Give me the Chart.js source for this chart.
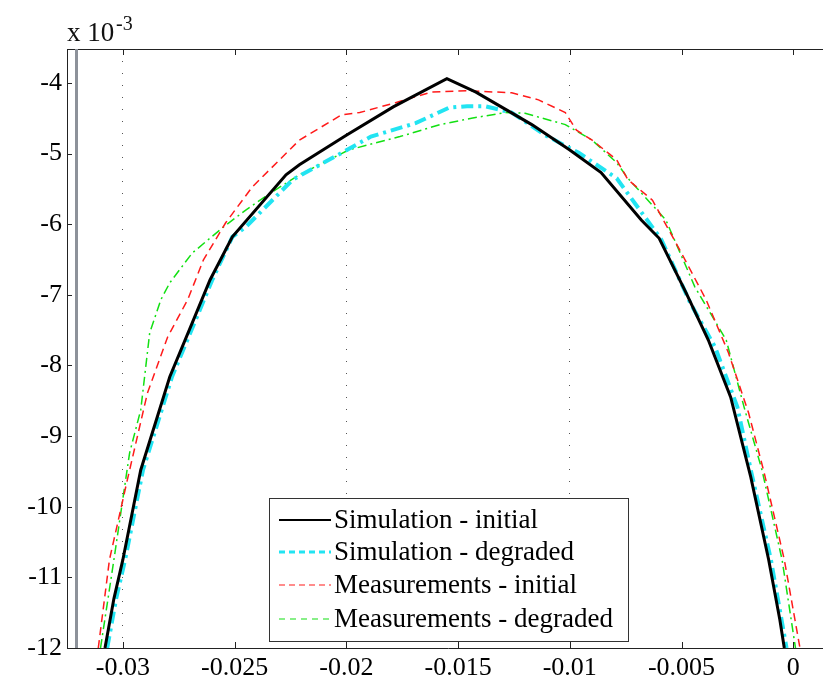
<!DOCTYPE html>
<html>
<head>
<meta charset="utf-8">
<script src="https://cdn.jsdelivr.net/npm/chart.js@4/dist/chart.umd.min.js"></script>
<style>
  html, body { margin: 0; padding: 0; background: #fff; overflow: hidden; }
  #wrap { width: 830px; height: 680px; }
</style>
</head>
<body>
<div id="wrap"><canvas id="profileChart"></canvas></div>
<script>
// values are in units of 1e-3 on the y axis (see "x 10^-3" label)
const xTicks = [-0.03, -0.025, -0.02, -0.015, -0.01, -0.005, 0];
const yTicks = [-12, -11, -10, -9, -8, -7, -6, -5, -4];
const gridAt = [-0.03, -0.02, -0.01];

const seriesNames = ['Simulation - initial', 'Simulation - degraded', 'Measurements - initial', 'Measurements - degraded'];

const simInitX = [-0.0308, -0.0304, -0.0300, -0.0292, -0.0279, -0.0269, -0.0261, -0.0251, -0.0227, -0.0221, -0.0200, -0.0179, -0.0155, -0.0142, -0.0117, -0.0100, -0.0086, -0.0068, -0.0060, -0.0048, -0.0038, -0.0028, -0.0019, -0.0011, -0.0006, -0.0004];
const simInitY = [-12, -11.3, -10.75, -9.48, -8.16, -7.40, -6.79, -6.18, -5.30, -5.16, -4.74, -4.34, -3.94, -4.13, -4.59, -4.95, -5.27, -5.94, -6.20, -6.97, -7.64, -8.45, -9.58, -10.75, -11.6, -12];

const simDegX = [-0.0307, -0.0303, -0.0299, -0.0291, -0.0278, -0.0268, -0.0260, -0.0251, -0.0245, -0.0224, -0.0202, -0.0189, -0.0169, -0.0154, -0.0146, -0.0138, -0.0126, -0.0111, -0.0096, -0.0079, -0.0059, -0.0046, -0.0035, -0.0025, -0.0019, -0.0010, -0.0003];
const simDegY = [-12, -11.3, -10.75, -9.48, -8.16, -7.40, -6.79, -6.18, -6.04, -5.37, -4.99, -4.76, -4.57, -4.35, -4.33, -4.33, -4.42, -4.74, -4.99, -5.35, -6.22, -7.12, -7.74, -8.59, -9.48, -10.75, -12];

const measInitX = [-0.0311, -0.0306, -0.0298, -0.0289, -0.0280, -0.0271, -0.0264, -0.0254, -0.0242, -0.0221, -0.0202, -0.0194, -0.0178, -0.0162, -0.0146, -0.0126, -0.0114, -0.0102, -0.0097, -0.0090, -0.0079, -0.0074, -0.0063, -0.0050, -0.0039, -0.0029, -0.0020, -0.0013, -0.0004, 0.0003];
const measInitY = [-12, -10.75, -9.62, -8.39, -7.60, -7.07, -6.51, -5.98, -5.47, -4.81, -4.45, -4.42, -4.28, -4.13, -4.11, -4.14, -4.24, -4.42, -4.67, -4.81, -5.09, -5.37, -5.66, -6.41, -7.07, -7.82, -8.67, -9.52, -10.75, -12];

const measDegX = [-0.0310, -0.0304, -0.0297, -0.0292, -0.0288, -0.0283, -0.0279, -0.0269, -0.0255, -0.0245, -0.0234, -0.0221, -0.0199, -0.0176, -0.0158, -0.0144, -0.0129, -0.0120, -0.0102, -0.0090, -0.0079, -0.0074, -0.0057, -0.0044, -0.0030, -0.0022, -0.0014, -0.0005, 0.0001];
const measDegY = [-12, -10.75, -9.24, -8.63, -7.54, -7.07, -6.83, -6.41, -6.04, -5.80, -5.56, -5.30, -4.95, -4.76, -4.59, -4.50, -4.42, -4.43, -4.59, -4.81, -5.13, -5.35, -5.94, -6.89, -7.64, -8.59, -9.48, -10.75, -12];

const toPoints = (xs, ys) => xs.map((x, i) => ({ x: x, y: ys[i] }));
const serif = '"Liberation Serif", "DejaVu Serif", serif';

// inward ticks, frame, exponent label and boxed legend
const framePlugin = {
    id: 'frame',
    afterDraw(chart) {
        const { ctx, chartArea: a, scales } = chart;
        ctx.save();
        ctx.strokeStyle = '#222';
        ctx.lineWidth = 1;
        ctx.beginPath();
        ctx.moveTo(a.left, a.top + 0.5); ctx.lineTo(a.right, a.top + 0.5);
        ctx.moveTo(a.right - 0.5, a.top); ctx.lineTo(a.right - 0.5, a.bottom);
        scales.x.ticks.forEach(t => {
            const px = Math.round(scales.x.getPixelForValue(t.value)) + 0.5;
            ctx.moveTo(px, a.bottom); ctx.lineTo(px, a.bottom - 6);
            ctx.moveTo(px, a.top); ctx.lineTo(px, a.top + 6);
        });
        scales.y.ticks.forEach(t => {
            const py = Math.round(scales.y.getPixelForValue(t.value)) + 0.5;
            ctx.moveTo(a.left, py); ctx.lineTo(a.left + 5, py);
            ctx.moveTo(a.right, py); ctx.lineTo(a.right - 5, py);
        });
        ctx.stroke();

        // grey bar just inside the left axis
        ctx.strokeStyle = '#8d929a';
        ctx.lineWidth = 3;
        ctx.beginPath();
        ctx.moveTo(a.left + 9.5, a.top); ctx.lineTo(a.left + 9.5, a.bottom);
        ctx.stroke();

        // x 10^-3
        ctx.fillStyle = '#111';
        ctx.textBaseline = 'alphabetic';
        ctx.font = '27px ' + serif;
        ctx.fillText('x 10', a.left, 41);
        ctx.font = '20px ' + serif;
        ctx.fillText('-3', a.left + 49, 30);

        // legend
        const box = { l: 269, t: 498, r: 628, b: 641 };
        ctx.fillStyle = '#fff';
        ctx.fillRect(box.l, box.t, box.r - box.l, box.b - box.t);
        ctx.strokeStyle = '#333';
        ctx.lineWidth = 1;
        ctx.strokeRect(box.l + 0.5, box.t + 0.5, box.r - box.l, box.b - box.t);
        const rowY = [520, 552, 585, 619];
        chart.data.datasets.forEach((ds, i) => {
            const y = rowY[i];
            ctx.strokeStyle = ds.borderColor;
            ctx.lineWidth = ds.legendWidth;
            ctx.setLineDash(ds.legendDash);
            ctx.beginPath();
            ctx.moveTo(279, y); ctx.lineTo(331, y);
            ctx.stroke();
            ctx.setLineDash([]);
            ctx.fillStyle = '#000';
            ctx.font = '27px ' + serif;
            ctx.textBaseline = 'middle';
            ctx.fillText(ds.label, 334, y + 1);
        });
        ctx.restore();
    }
};

new Chart(document.getElementById('profileChart'), {
    type: 'line',
    data: {
        datasets: [
            { label: seriesNames[0], data: toPoints(simInitX, simInitY), borderColor: '#000000', borderWidth: 3, legendWidth: 2, legendDash: [] },
            { label: seriesNames[1], data: toPoints(simDegX, simDegY), borderColor: '#22e4f2', borderWidth: 4, borderDash: [12, 5, 3, 5], legendWidth: 3, legendDash: [6, 4] },
            { label: seriesNames[2], data: toPoints(measInitX, measInitY), borderColor: '#ff1a1a', borderWidth: 1.5, borderDash: [8, 5], legendWidth: 1.2, legendDash: [6, 4] },
            { label: seriesNames[3], data: toPoints(measDegX, measDegY), borderColor: '#12e012', borderWidth: 1.5, borderDash: [9, 4, 2, 4], legendWidth: 1.2, legendDash: [6, 5] }
        ]
    },
    options: {
        responsive: true,
        maintainAspectRatio: false,
        animation: false,
        layout: { padding: { top: 49, right: 1, left: 0, bottom: 0 } },
        elements: { point: { radius: 0 }, line: { tension: 0, fill: false } },
        plugins: { legend: { display: false }, tooltip: { enabled: false } },
        scales: {
            x: {
                type: 'linear',
                min: -0.0325,
                max: 0.0016,
                afterBuildTicks: s => { s.ticks = xTicks.map(v => ({ value: v })); },
                afterFit: s => { s.height = 32; },
                ticks: {
                    color: '#000',
                    font: { family: serif, size: 26 },
                    padding: 5,
                    maxRotation: 0,
                    callback: v => v === 0 ? '0' : String(Number(v.toFixed(3)))
                },
                grid: {
                    drawTicks: false,
                    color: c => (c.tick && gridAt.some(g => Math.abs(g - c.tick.value) < 1e-9)) ? '#555' : 'rgba(0,0,0,0)',
                    lineWidth: 1
                },
                border: { display: true, color: '#222', width: 1, dash: [1, 11] }
            },
            y: {
                type: 'linear',
                min: -12,
                max: -3.52,
                afterBuildTicks: s => { s.ticks = yTicks.map(v => ({ value: v })); },
                afterFit: s => { s.width = 67; },
                ticks: {
                    color: '#000',
                    font: { family: serif, size: 26 },
                    padding: 5
                },
                grid: { display: false, drawTicks: false },
                border: { display: true, color: '#222', width: 1 }
            }
        }
    },
    plugins: [framePlugin]
});
</script>
</body>
</html>
